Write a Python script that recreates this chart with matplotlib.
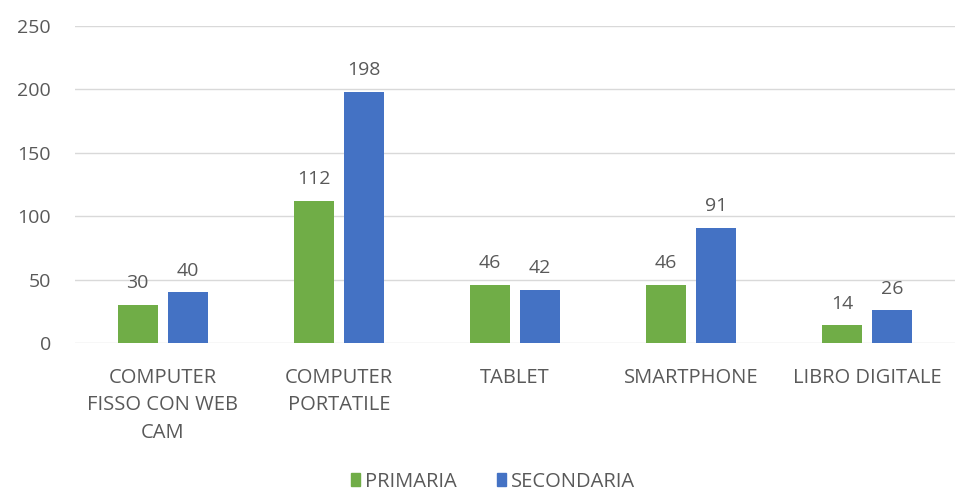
import numpy as np
import matplotlib.pyplot as plt
from matplotlib.patches import Patch

categories = ['COMPUTER\nFISSO CON WEB\nCAM', 'COMPUTER\nPORTATILE', 'TABLET', 'SMARTPHONE', 'LIBRO DIGITALE']
primaria = [30, 112, 46, 46, 14]
secondaria = [40, 198, 42, 91, 26]
yticks = [0, 50, 100, 150, 200, 250]

green = '#70AD47'
blue = '#4472C4'
gray = '#595959'

plt.rcParams['font.family'] = ['Open Sans', 'DejaVu Sans']

fig = plt.figure(figsize=(9.57, 5), dpi=100)
ax = fig.add_axes([0.078, 0.314, 0.92, 0.634])

x = np.arange(len(categories))
w = 0.227
off = 0.142
b1 = ax.bar(x - off, primaria, w, color=green)
b2 = ax.bar(x + off, secondaria, w, color=blue)

for bars, vals in ((b1, primaria), (b2, secondaria)):
    for b, v in zip(bars, vals):
        ax.annotate(str(v), (b.get_x() + b.get_width() / 2, v), xytext=(0, 9),
                    textcoords='offset points', ha='center', va='bottom',
                    fontsize=14, color=gray)

ax.set_xlim(-0.5, len(categories) - 0.5)
ax.set_ylim(0, 250)
ax.set_yticks(yticks)
ax.yaxis.grid(True, color='#d9d9d9', linewidth=1)
ax.set_axisbelow(True)
for s in ax.spines.values():
    s.set_visible(False)
ax.tick_params(length=0, colors=gray, labelsize=14)
ax.tick_params(axis='y', pad=17)
ax.tick_params(axis='x', pad=18, labelsize=14.5)
ax.set_xticks(x)
ax.set_xticklabels(categories, linespacing=1.5)

handles = [Patch(color=green, label='PRIMARIA'), Patch(color=blue, label='SECONDARIA')]
fig.legend(handles=handles, loc='lower center', bbox_to_anchor=(0.515, -0.012), ncol=2,
           frameon=False, fontsize=14.5, handlelength=0.45, handleheight=0.6,
           handletextpad=0.25, columnspacing=2.0, labelcolor=gray,
           borderpad=0.2)

fig.savefig('out.png', dpi=100)
